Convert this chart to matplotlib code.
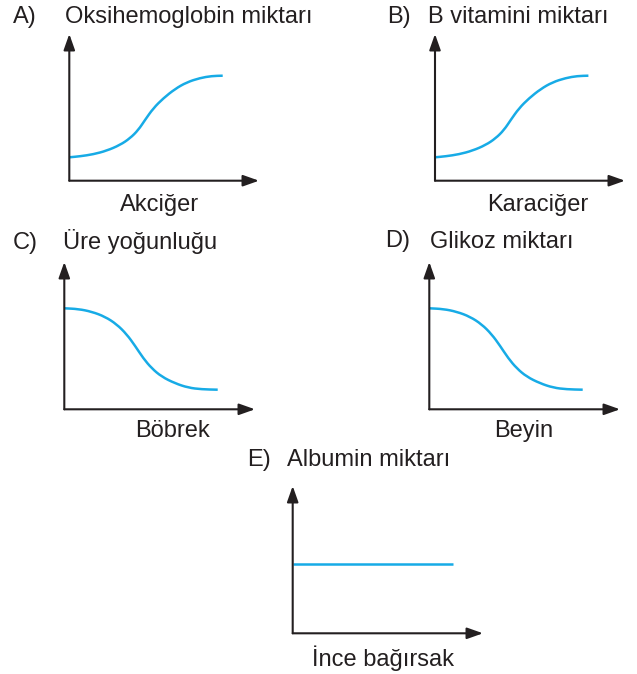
import matplotlib.pyplot as plt
from matplotlib.path import Path
from matplotlib.patches import PathPatch

plt.rcParams['font.family'] = ['Liberation Sans', 'DejaVu Sans']

W, H = 637, 674

# curve samples, pixel units measured from each panel's origin
rise_x = [0, 10.7, 24, 37.4, 50.7, 60.7, 69, 75.7, 84, 94, 105.7, 117.4, 130.7, 142.4, 153.4]
rise_y = [23.4, 24.4, 26.4, 30, 35.7, 42.4, 50.7, 60.7, 72.4, 82.4, 91.7, 98.4, 102.7, 104.7, 105]

fall_x = [0, 14, 27.4, 40.7, 52.4, 62.4, 70.7, 79, 87.4, 97.4, 110.7, 124, 137.4, 153.4]
fall_y = [101, 100.3, 97.6, 92.6, 85, 75, 63.6, 51, 41, 32.6, 26, 21.6, 20, 19.6]

flat_x = [0, 160]
flat_y = [69, 69]

letters = ['A)', 'B)', 'C)', 'D)', 'E)']
titles = ['Oksihemoglobin miktarı', 'B vitamini miktarı', 'Üre yoğunluğu',
          'Glikoz miktarı', 'Albumin miktarı']
xlabels = ['Akciğer', 'Karaciğer', 'Böbrek', 'Beyin', 'İnce bağırsak']
series = [(rise_x, rise_y), (rise_x, rise_y), (fall_x, fall_y),
          (fall_x, fall_y), (flat_x, flat_y)]

# layout in pixels: origin x, origin y, arrow tip x, arrow top y
boxes = [(69.3, 180.7, 259, 34), (435, 180.7, 625, 34), (64.3, 409.3, 255, 262),
         (429.3, 409.3, 620, 262), (292.7, 633.3, 483, 486)]
letter_pos = [(13, 23.3), (387, 23.3), (13, 248.5), (385, 247.5), (247, 466)]
title_pos = [(65, 23.3), (428.5, 23.3), (63, 248.5), (430, 247.5), (287, 466)]
xlabel_pos = [(160, 210.7), (538, 211), (172.5, 436.7), (524, 437), (383, 666)]

blue = '#17ABE6'
ink = '#231f20'


def smooth_path(xs, ys):
    # quadratic pieces through the midpoints, so the sampled curve draws smoothly
    pts = list(zip(xs, ys))
    if len(pts) < 3:
        return Path(pts)
    verts = [pts[0]]
    codes = [Path.MOVETO]
    mid = ((pts[0][0] + pts[1][0]) / 2, (pts[0][1] + pts[1][1]) / 2)
    verts.append(mid)
    codes.append(Path.LINETO)
    for k in range(1, len(pts) - 1):
        nxt = ((pts[k][0] + pts[k + 1][0]) / 2, (pts[k][1] + pts[k + 1][1]) / 2)
        verts += [pts[k], nxt]
        codes += [Path.CURVE3, Path.CURVE3]
    verts.append(pts[-1])
    codes.append(Path.LINETO)
    return Path(verts, codes)


fig = plt.figure(figsize=(W / 100, H / 100), dpi=100)

for i in range(5):
    ox, oy, tx, ty = boxes[i]
    w, h = tx - ox, oy - ty
    ax = fig.add_axes([ox / W, 1 - oy / H, w / W, h / H])
    ax.set_xlim(0, w)
    ax.set_ylim(0, h)
    ax.axis('off')
    arrow = dict(arrowstyle='-|>,head_length=0.48,head_width=0.17', color=ink,
                 lw=1.5, shrinkA=0, shrinkB=0, mutation_scale=20)
    ax.annotate('', xy=(w, 0), xytext=(0, 0), arrowprops=arrow, annotation_clip=False)
    ax.annotate('', xy=(0, h), xytext=(0, 0), arrowprops=arrow, annotation_clip=False)
    xs, ys = series[i]
    ax.add_patch(PathPatch(smooth_path(xs, ys), facecolor='none', edgecolor=blue,
                           lw=1.8, capstyle='butt', clip_on=False))

    lx, ly = letter_pos[i]
    fig.text(lx / W, 1 - ly / H, letters[i], fontsize=17, color=ink, va='baseline')
    px, py = title_pos[i]
    fig.text(px / W, 1 - py / H, titles[i], fontsize=17, color=ink, va='baseline')
    qx, qy = xlabel_pos[i]
    fig.text(qx / W, 1 - qy / H, xlabels[i], fontsize=17, color=ink,
             ha='center', va='baseline')

fig.savefig('out.png', dpi=100)
